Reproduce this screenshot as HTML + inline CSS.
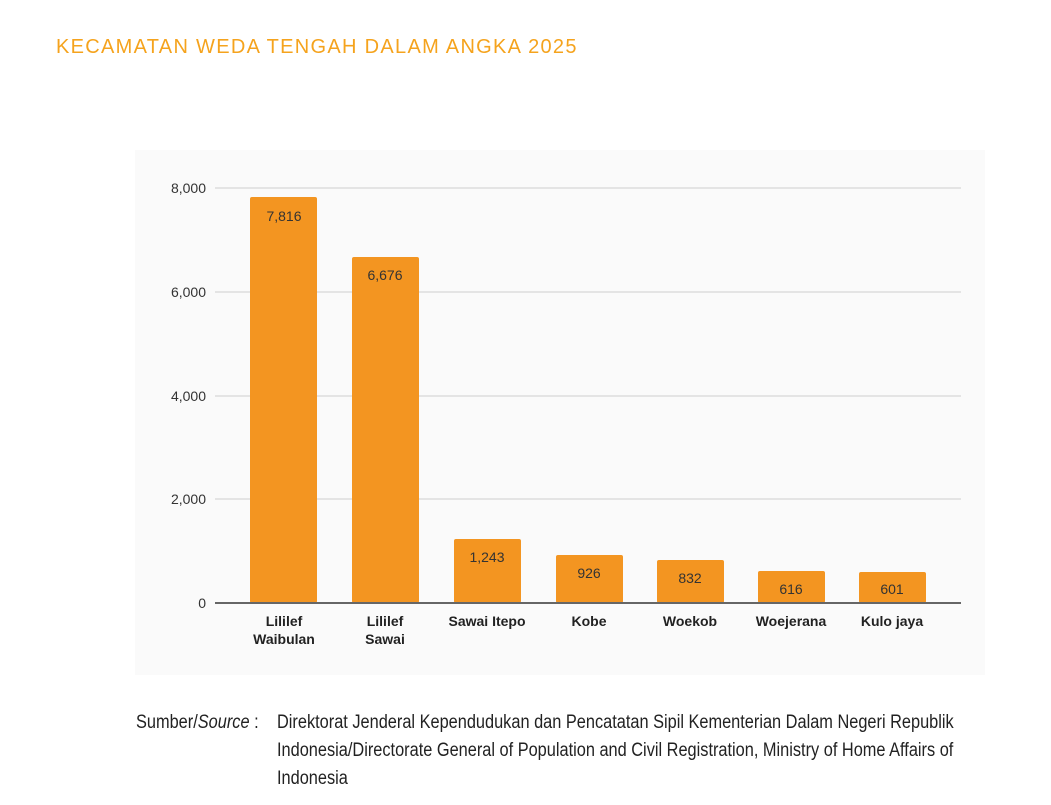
<!DOCTYPE html>
<html><head><meta charset="utf-8"><style>
body{margin:0;width:1051px;height:805px;background:#fff;overflow:hidden;position:relative;font-family:"Liberation Sans",sans-serif}
.t{position:absolute;left:56px;top:36px;color:#f5a31d;font-size:20px;letter-spacing:1.3px}
.src{position:absolute;font-family:"Liberation Sans",sans-serif;font-size:19px;color:#222;line-height:28px;transform-origin:0 0;transform:scaleX(0.86)}
</style></head><body>
<div class="t">KECAMATAN WEDA TENGAH DALAM ANGKA 2025</div>
<svg width="1051" height="805" style="position:absolute;left:0;top:0">
<rect x="135" y="150" width="850" height="525" fill="#fafafa"/>
<g stroke="#e4e4e4" stroke-width="2">
<line x1="215" x2="961" y1="188" y2="188"/><line x1="215" x2="961" y1="292" y2="292"/>
<line x1="215" x2="961" y1="396" y2="396"/><line x1="215" x2="961" y1="499" y2="499"/>
</g>
<g font-family="Liberation Sans" font-size="14" fill="#333" text-anchor="end">
<text x="206" y="193">8,000</text><text x="206" y="297">6,000</text><text x="206" y="401">4,000</text><text x="206" y="504">2,000</text><text x="206" y="608">0</text>
</g>
<g fill="#f39521">
<rect x="250" y="197" width="67" height="406" rx="2"/>
<rect x="352" y="257" width="67" height="346" rx="2"/>
<rect x="454" y="539" width="67" height="64" rx="2"/>
<rect x="556" y="555" width="67" height="48" rx="2"/>
<rect x="657" y="560" width="67" height="43" rx="2"/>
<rect x="758" y="571" width="67" height="32" rx="2"/>
<rect x="859" y="572" width="67" height="31" rx="2"/>
</g>
<line x1="215" x2="961" y1="603" y2="603" stroke="#666" stroke-width="2"/>
<g font-family="Liberation Sans" font-size="14" fill="#333" text-anchor="middle">
<text x="284" y="221">7,816</text><text x="385" y="280">6,676</text><text x="487" y="562">1,243</text>
<text x="589" y="578">926</text><text x="690" y="583">832</text><text x="791" y="594">616</text><text x="892" y="594">601</text>
</g>
<g font-family="Liberation Sans" font-size="14" font-weight="bold" fill="#222" text-anchor="middle">
<text x="284" y="626">Lililef</text><text x="284" y="644">Waibulan</text>
<text x="385" y="626">Lililef</text><text x="385" y="644">Sawai</text>
<text x="487" y="626">Sawai Itepo</text><text x="589" y="626">Kobe</text><text x="690" y="626">Woekob</text>
<text x="791" y="626">Woejerana</text><text x="892" y="626">Kulo jaya</text>
</g>
</svg>
<div class="src" style="left:136px;top:709px;white-space:nowrap">Sumber/<i>Source</i> :</div>
<div class="src" style="left:277px;top:709px;width:845px">Direktorat Jenderal Kependudukan dan Pencatatan Sipil Kementerian Dalam Negeri Republik<br>Indonesia/Directorate General of Population and Civil Registration, Ministry of Home Affairs of<br>Indonesia</div>
</body></html>
